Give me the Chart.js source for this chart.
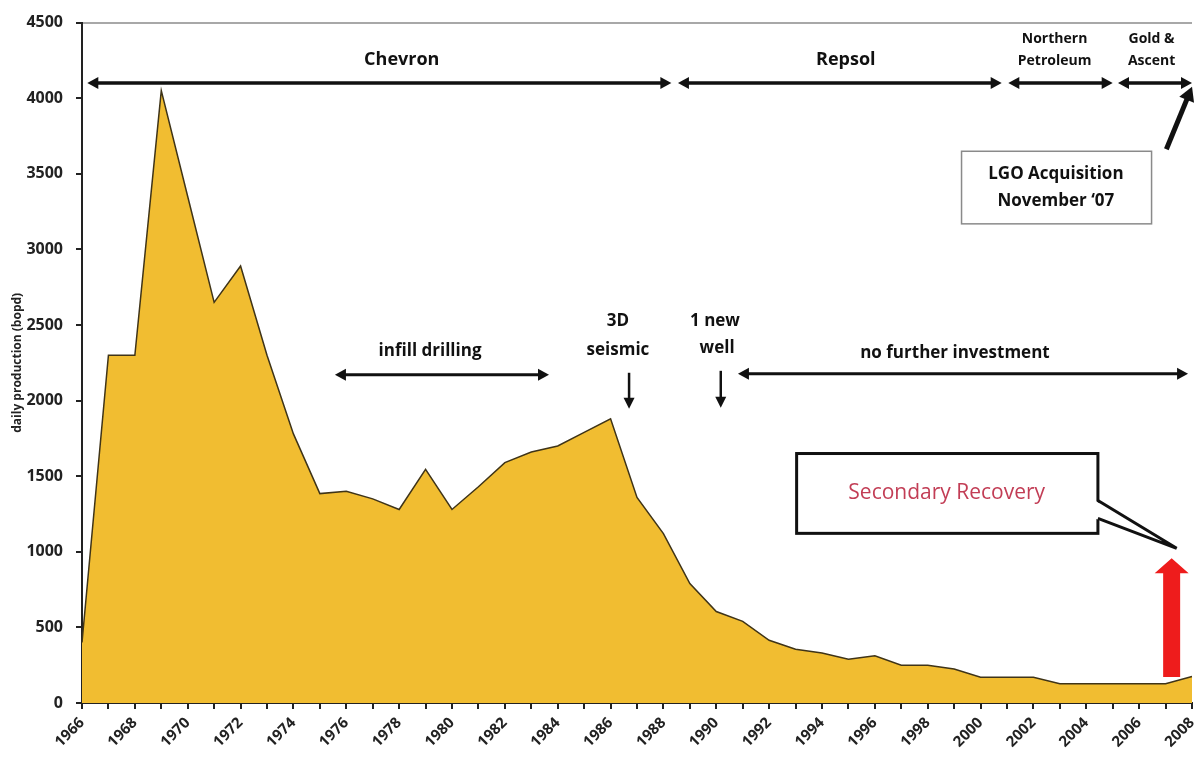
<!DOCTYPE html>
<html>
<head>
<meta charset="utf-8">
<title>Daily production</title>
<script src="https://cdn.jsdelivr.net/npm/chart.js@4"></script>
<style>
  html, body { margin: 0; padding: 0; background: #fff; }
  #wrap { width: 1194px; height: 757px; }
</style>
</head>
<body>
<div id="wrap"><canvas id="productionChart"></canvas></div>
<script>
Chart.defaults.font.family = "'Open Sans', sans-serif";
Chart.defaults.color = "#222";

// field output, barrels of oil per day
const years = [1966, 1967, 1968, 1969, 1970, 1971, 1972, 1973, 1974, 1975,
  1976, 1977, 1978, 1979, 1980, 1981, 1982, 1983, 1984, 1985,
  1986, 1987, 1988, 1989, 1990, 1991, 1992, 1993, 1994, 1995,
  1996, 1997, 1998, 1999, 2000, 2001, 2002, 2003, 2004, 2005,
  2006, 2007, 2008];
const production = [400, 2300, 2300, 4050, 3350, 2650, 2890, 2300, 1780, 1385,
  1400, 1350, 1280, 1545, 1280, 1430, 1590, 1660, 1700, 1790,
  1880, 1360, 1120, 790, 605, 540, 415, 355, 330, 290,
  312, 250, 250, 225, 170, 170, 170, 128, 128, 128,
  128, 128, 175];
const yMax = 4500;
const yStep = 500;

// operators over the life of the field (year spans)
const owners = [
  { lines: ["Chevron"], from: 1966.2, to: 1988.3, at: 1978.1 },
  { lines: ["Repsol"], from: 1988.55, to: 2000.8, at: 1994.9 },
  { lines: ["Northern", "Petroleum"], from: 2001.05, to: 2005.0, at: 2002.8 },
  { lines: ["Gold &", "Ascent"], from: 2005.2, to: 2008.0, at: 2006.47 }
];

const head = (ctx, x, y, ang, len, half) => {
  ctx.save();
  ctx.translate(x, y);
  ctx.rotate(ang);
  ctx.beginPath();
  ctx.moveTo(0, 0);
  ctx.lineTo(-len, -half);
  ctx.lineTo(-len, half);
  ctx.closePath();
  ctx.fill();
  ctx.restore();
};

const span = (ctx, x1, x2, y, lw) => {
  ctx.lineWidth = lw;
  ctx.beginPath();
  ctx.moveTo(x1 + 8, y);
  ctx.lineTo(x2 - 8, y);
  ctx.stroke();
  head(ctx, x1, y, Math.PI, 11, 6);
  head(ctx, x2, y, 0, 11, 6);
};

const notes = {
  id: "notes",
  afterDatasetsDraw(chart) {
    const { ctx, scales: { x, y } } = chart;
    const px = yr => x.getPixelForValue(yr - years[0]);
    const py = v => y.getPixelForValue(v);
    ctx.save();
    ctx.fillStyle = "#111";
    ctx.strokeStyle = "#111";
    ctx.textAlign = "center";
    ctx.textBaseline = "middle";

    // ownership spans along the top
    owners.forEach(o => {
      span(ctx, px(o.from), px(o.to), py(4100), 3.5);
      if (o.lines.length === 1) {
        ctx.font = "bold 18px 'Open Sans'";
        ctx.fillText(o.lines[0], px(o.at), py(4256));
      } else {
        ctx.font = "bold 14px 'Open Sans'";
        ctx.fillText(o.lines[0], px(o.at), py(4394));
        ctx.fillText(o.lines[1], px(o.at), py(4243));
      }
    });

    // LGO box and pointer
    const bx1 = px(1999.28), bx2 = px(2006.47), by1 = py(3649), by2 = py(3169);
    ctx.fillStyle = "#fff";
    ctx.fillRect(bx1, by1, bx2 - bx1, by2 - by1);
    ctx.strokeStyle = "#8a8a8a";
    ctx.lineWidth = 1.5;
    ctx.strokeRect(bx1, by1, bx2 - bx1, by2 - by1);
    ctx.fillStyle = "#111";
    ctx.strokeStyle = "#111";
    ctx.font = "bold 17px 'Open Sans'";
    ctx.fillText("LGO Acquisition", px(2002.85), py(3497));
    ctx.fillText("November \u201807", px(2002.85), py(3319));
    const ax1 = px(2007.03), ay1 = py(3662), ax2 = px(2008), ay2 = py(4075);
    const ang = Math.atan2(ay2 - ay1, ax2 - ax1);
    ctx.lineWidth = 5;
    ctx.beginPath();
    ctx.moveTo(ax1, ay1);
    ctx.lineTo(ax2 - Math.cos(ang) * 10, ay2 - Math.sin(ang) * 10);
    ctx.stroke();
    head(ctx, ax2, ay2, ang, 14, 8);

    // development events
    ctx.font = "bold 17px 'Open Sans'";
    ctx.fillText("infill drilling", px(1979.17), py(2329));
    span(ctx, px(1975.57), px(1983.67), py(2171), 3);

    ctx.fillText("3D", px(1986.28), py(2527));
    ctx.fillText("seismic", px(1986.28), py(2336));
    ctx.fillText("1 new", px(1989.95), py(2527));
    ctx.fillText("well", px(1990.03), py(2349));
    [[1986.7, 2184, 1946], [1990.17, 2197, 1953]].forEach(([yr, top, tip]) => {
      const xx = px(yr);
      ctx.lineWidth = 2.5;
      ctx.beginPath();
      ctx.moveTo(xx, py(top));
      ctx.lineTo(xx, py(tip) - 8);
      ctx.stroke();
      head(ctx, xx, py(tip), Math.PI / 2, 11, 5.5);
    });

    ctx.fillText("no further investment", px(1999.03), py(2316));
    span(ctx, px(1990.82), px(2007.85), py(2177), 3);

    // secondary recovery callout
    const sx1 = px(1993.04), sx2 = px(2004.44), sy1 = py(1650), sy2 = py(1122);
    const tipX = px(2007.42), tipY = py(1023);
    ctx.fillStyle = "#fff";
    ctx.fillRect(sx1, sy1, sx2 - sx1, sy2 - sy1);
    ctx.lineWidth = 3;
    ctx.strokeStyle = "#111";
    ctx.strokeRect(sx1, sy1, sx2 - sx1, sy2 - sy1);
    ctx.beginPath();
    ctx.moveTo(sx2 - 3, py(1339));
    ctx.lineTo(tipX, tipY);
    ctx.lineTo(sx2 - 3, py(1221));
    ctx.closePath();
    ctx.fill();
    ctx.beginPath();
    ctx.moveTo(sx2, py(1339));
    ctx.lineTo(tipX, tipY);
    ctx.lineTo(sx2, py(1221));
    ctx.stroke();
    ctx.fillStyle = "#c23d55";
    ctx.font = "21px 'Open Sans'";
    ctx.fillText("Secondary Recovery", px(1998.72), py(1386));

    // red arrow
    const rx = px(2007.23), rTip = py(957), rBase = py(858), rBot = py(172);
    ctx.fillStyle = "#ee1c1c";
    ctx.beginPath();
    ctx.moveTo(rx - 8.5, rBot);
    ctx.lineTo(rx - 8.5, rBase);
    ctx.lineTo(rx - 17, rBase);
    ctx.lineTo(rx, rTip);
    ctx.lineTo(rx + 17, rBase);
    ctx.lineTo(rx + 8.5, rBase);
    ctx.lineTo(rx + 8.5, rBot);
    ctx.closePath();
    ctx.fill();
    ctx.restore();
  }
};

new Chart("productionChart", {
  type: "line",
  data: {
    labels: years,
    datasets: [{
      data: production,
      fill: "origin",
      backgroundColor: "#f1bd31",
      borderColor: "#3f3418",
      borderWidth: 1.5,
      pointRadius: 0,
      tension: 0
    }]
  },
  options: {
    responsive: true,
    maintainAspectRatio: false,
    animation: false,
    layout: { padding: { top: 21, right: 2, left: 0, bottom: 0 } },
    plugins: { legend: { display: false }, tooltip: { enabled: false } },
    scales: {
      x: {
        offset: false,
        grid: { drawOnChartArea: false, tickLength: 6, tickColor: "#222", lineWidth: 2 },
        border: { color: "#222", width: 2 },
        ticks: {
          autoSkip: false,
          maxRotation: 45,
          minRotation: 45,
          padding: 5,
          font: { size: 15, weight: "bold" },
          callback: (v, i) => (i % 2 === 0 ? String(years[i]) : "")
        },
        afterFit(s) {
          s.height = 54;
          s.paddingLeft = 0;
          s.paddingRight = 0;
        }
      },
      y: {
        min: 0,
        max: yMax,
        grid: {
          color: c => (c.tick && c.tick.value === yMax ? "#a8a8a8" : "rgba(0,0,0,0)"),
          lineWidth: 2,
          tickLength: 6,
          tickColor: "#222"
        },
        border: { color: "#222", width: 2 },
        ticks: {
          stepSize: yStep,
          padding: 13,
          font: { size: 16, weight: "bold" },
          callback: v => String(v)
        },
        title: {
          display: true,
          text: "daily production (bopd)",
          font: { size: 12, weight: "bold" },
          padding: { top: 10, bottom: 0 }
        },
        afterFit(s) {
          s.width = 82;
        }
      }
    }
  },
  plugins: [notes]
});
</script>
</body>
</html>
